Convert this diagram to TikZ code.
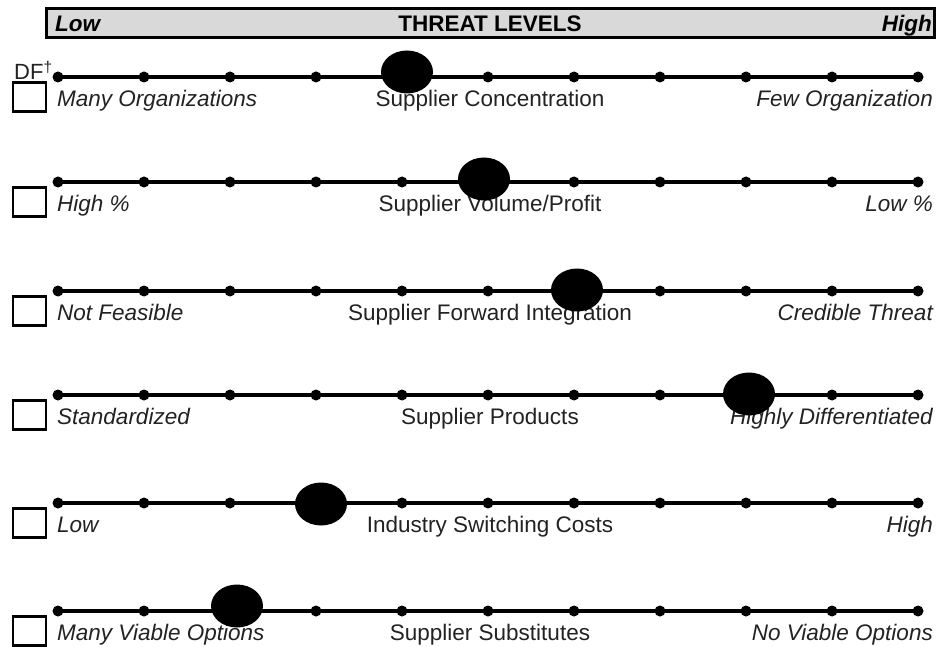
\documentclass[tikz,border=0pt]{standalone}
\usepackage{fontspec}
\setmainfont{Liberation Sans}
\usetikzlibrary{shapes.geometric}
\definecolor{txt}{HTML}{222222}
\definecolor{barfill}{HTML}{D9D9D9}
\tikzset{
  smalldot/.style={circle,fill=black,minimum size=11pt,inner sep=0pt},
  bigdot/.style={ellipse,fill=black,minimum width=52pt,minimum height=43pt,inner sep=0pt},
  scaleline/.style={line width=3.2pt},
  checkbox/.style={draw=black,line width=2.5pt,minimum width=33pt,minimum height=29pt,inner sep=0pt},
  lbl/.style={inner sep=0pt,text=txt,font=\fontsize{22.5}{27}\selectfont},
  ilbl/.style={lbl,font=\fontsize{22.5}{27}\selectfont\itshape},
  toplbl/.style={inner sep=0pt,text=black,font=\fontsize{22.5}{27}\selectfont\bfseries},
}
\newcommand\threatrow[7]{%
  \foreach \k in {0,...,10}{\node[smalldot] (r#1d\k) at ({58+86*\k},#2) {};}
  \draw[scaleline] (r#1d0.center) -- (r#1d10.center);
  \node[checkbox] (r#1box) at (29.5,#2+20) {};
  \node[ilbl,anchor=base west] (r#1left) at (57,#2+29.5) {#5};
  \node[lbl,anchor=base] (r#1mid) at (490,#2+29.5) {#6};
  \node[ilbl,anchor=base east] (r#1right) at (933,#2+29.5) {#7};
  \node[bigdot] (r#1big) at (#3,#4) {};
}
\begin{document}
\begin{tikzpicture}[x=1pt,y=-1pt]
\useasboundingbox (0,0) rectangle (940,647);
% header bar
\node[draw=black,fill=barfill,line width=3.5pt,minimum width=888pt,minimum height=29pt,inner sep=0pt] (bar) at (490.5,23) {};
\node[toplbl,anchor=base west,font=\fontsize{22.5}{27}\selectfont\bfseries\itshape] (low) at (55,32) {Low};
\node[toplbl,anchor=base] (title) at (490,32) {THREAT LEVELS};
\node[toplbl,anchor=base east,font=\fontsize{22.5}{27}\selectfont\bfseries\itshape] (high) at (932,32) {High};
% DF label
\node[lbl,anchor=base west,font=\fontsize{22}{26}\selectfont] (df) at (14,80) {DF\textsuperscript{\textdagger}};
% rows
\threatrow{1}{77}{407}{72}{Many Organizations}{Supplier Concentration}{Few Organization}
\threatrow{2}{182}{484}{179}{High \%}{Supplier Volume/Profit}{Low \%}
\threatrow{3}{291}{577}{290}{Not Feasible}{Supplier Forward Integration}{Credible Threat}
\threatrow{4}{395}{749}{394}{Standardized}{Supplier Products}{Highly Differentiated}
\threatrow{5}{503}{321}{504}{Low}{Industry Switching Costs}{High}
\threatrow{6}{611}{237}{606}{Many Viable Options}{Supplier Substitutes}{No Viable Options}
\end{tikzpicture}
\end{document}
